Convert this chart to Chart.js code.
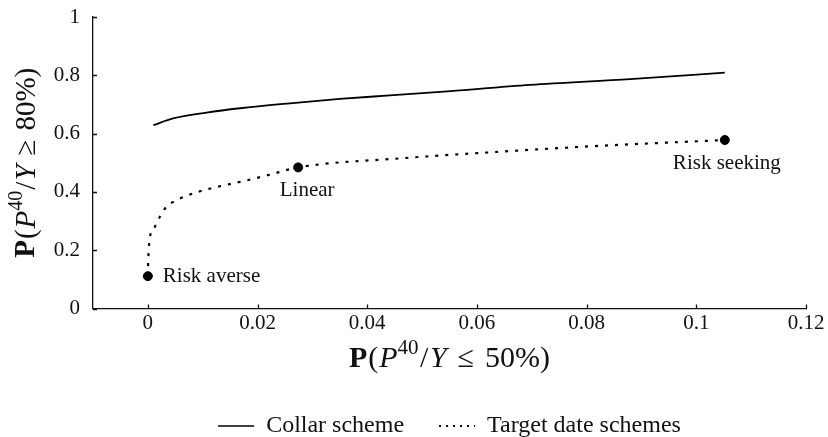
<!DOCTYPE html>
<html>
<head>
<meta charset="utf-8">
<script src="https://cdn.jsdelivr.net/npm/chart.js@4.4.1/dist/chart.umd.min.js"></script>
<style>
  html, body { margin: 0; padding: 0; background: #fff; }
</style>
</head>
<body>
<canvas id="chart" width="828" height="437"></canvas>
<script>
// Collar scheme frontier
const collarX = [0.001, 0.0046, 0.0107, 0.0168, 0.0259, 0.035, 0.0441, 0.0533, 0.0697, 0.0879, 0.1052];
const collarY = [0.629, 0.652, 0.672, 0.687, 0.704, 0.719, 0.731, 0.743, 0.767, 0.787, 0.809];

// Target date schemes frontier
const targetX = [0, 0.0001, 0.0004, 0.0013, 0.0022, 0.0034, 0.0053, 0.0086, 0.0128, 0.0177, 0.022, 0.0274, 0.046, 0.0642, 0.0824, 0.1052];
const targetY = [0.111, 0.178, 0.246, 0.281, 0.315, 0.349, 0.372, 0.397, 0.418, 0.438, 0.458, 0.484, 0.515, 0.538, 0.558, 0.578];

// highlighted target date schemes
const markerNames = ["Risk averse", "Linear", "Risk seeking"];
const markerX = [0, 0.0274, 0.1052];
const markerY = [0.111, 0.484, 0.578];

const xTicks = [0, 0.02, 0.04, 0.06, 0.08, 0.1, 0.12];
const xTickLabels = ["0", "0.02", "0.04", "0.06", "0.08", "0.1", "0.12"];
const yTicks = [0, 0.2, 0.4, 0.6, 0.8, 1];
const yTickLabels = ["0", "0.2", "0.4", "0.6", "0.8", "1"];

const FONT = '"Liberation Serif", "DejaVu Serif", serif';
const INK = "#111";

const toPoints = (xs, ys) => xs.map((x, i) => ({ x: x, y: ys[i] }));

// where each marker label sits relative to its dot
const labelOffsets = [
    { dx: 15, dy: 0, align: "left" },
    { dx: 9, dy: 23, align: "center" },
    { dx: 2, dy: 23, align: "center" }
];

function drawRich(ctx, parts, cx, cy, size) {
    const fonts = {
        n: `${size}px ${FONT}`,
        b: `bold ${size}px ${FONT}`,
        i: `italic ${size}px ${FONT}`,
        s: `${Math.round(size * 0.7)}px ${FONT}`
    };
    let total = 0;
    parts.forEach(p => {
        ctx.font = fonts[p.f];
        p.w = ctx.measureText(p.t).width + (p.gap || 0) * 2;
        total += p.w;
    });
    let x = cx - total / 2;
    ctx.textBaseline = "middle";
    ctx.textAlign = "left";
    parts.forEach(p => {
        ctx.font = fonts[p.f];
        ctx.fillText(p.t, x + (p.gap || 0), cy + (p.f === "s" ? -size * 0.36 : 0));
        x += p.w;
    });
}

const extras = {
    id: "extras",
    afterDraw(chart) {
        const ctx = chart.ctx;
        const xs = chart.scales.x;
        const ys = chart.scales.y;
        const area = chart.chartArea;
        ctx.save();

        // inward tick marks
        ctx.strokeStyle = INK;
        ctx.lineWidth = 1.3;
        ctx.beginPath();
        xTicks.forEach(v => {
            const px = Math.round(xs.getPixelForValue(v)) + 0.5;
            ctx.moveTo(px, area.bottom);
            ctx.lineTo(px, area.bottom - 4);
        });
        yTicks.forEach(v => {
            const py = Math.round(ys.getPixelForValue(v)) + 0.5;
            ctx.moveTo(area.left, py);
            ctx.lineTo(area.left + 4, py);
        });
        ctx.stroke();

        // marker labels
        ctx.fillStyle = INK;
        ctx.font = `21px ${FONT}`;
        ctx.textBaseline = "middle";
        markerNames.forEach((name, i) => {
            const o = labelOffsets[i];
            ctx.textAlign = o.align;
            ctx.fillText(name, xs.getPixelForValue(markerX[i]) + o.dx, ys.getPixelForValue(markerY[i]) + o.dy);
        });

        // axis titles
        const xTitle = [
            { t: "P", f: "b" }, { t: "(", f: "n", gap: 1 }, { t: "P", f: "i" }, { t: "40", f: "s" },
            { t: "/", f: "n", gap: 1.5 }, { t: "Y", f: "i" }, { t: "≤", f: "n", gap: 11 }, { t: "50%)", f: "n" }
        ];
        drawRich(ctx, xTitle, (area.left + area.right) / 2, 359, 30);

        const yTitle = [
            { t: "P", f: "b" }, { t: "(", f: "n", gap: 1 }, { t: "P", f: "i" }, { t: "40", f: "s" },
            { t: "/", f: "n", gap: 1 }, { t: "Y", f: "i" }, { t: "≥", f: "n", gap: 9 }, { t: "80%)", f: "n" }
        ];
        ctx.translate(27, (area.top + area.bottom) / 2);
        ctx.rotate(-Math.PI / 2);
        drawRich(ctx, yTitle, 0, 0, 29);

        ctx.restore();
    }
};

new Chart(document.getElementById("chart"), {
    type: "scatter",
    data: {
        datasets: [
            {
                label: "Schemes",
                data: toPoints(markerX, markerY),
                backgroundColor: "#000",
                borderColor: "#000",
                pointRadius: 4.5,
                showLine: false,
                order: 0
            },
            {
                label: "Collar scheme",
                data: toPoints(collarX, collarY),
                borderColor: "#000",
                backgroundColor: "#000",
                borderWidth: 1.8,
                pointRadius: 0,
                pointStyle: "line",
                showLine: true,
                cubicInterpolationMode: "monotone",
                order: 1
            },
            {
                label: "Target date schemes",
                data: toPoints(targetX, targetY),
                borderColor: "#000",
                backgroundColor: "#000",
                borderWidth: 2.2,
                borderDash: [3, 7],
                pointRadius: 0,
                pointStyle: "line",
                showLine: true,
                cubicInterpolationMode: "monotone",
                order: 2
            }
        ]
    },
    options: {
        responsive: false,
        animation: false,
        devicePixelRatio: 1,
        layout: { padding: { left: 0, right: 22, top: 17, bottom: -11 } },
        scales: {
            x: {
                type: "linear",
                min: -0.01,
                max: 0.12,
                afterBuildTicks: scale => { scale.ticks = xTicks.map(v => ({ value: v })); },
                afterFit: scale => {
                    scale.height = 70.5;
                    scale.paddingLeft = 0;
                    scale.paddingRight = 0;
                },
                ticks: {
                    color: INK,
                    font: { family: FONT, size: 21 },
                    padding: 2,
                    maxRotation: 0,
                    callback: (value) => xTickLabels[xTicks.indexOf(value)]
                },
                grid: { display: false, drawTicks: false },
                border: { display: true, color: INK, width: 1.3 }
            },
            y: {
                min: 0,
                max: 1,
                afterBuildTicks: scale => { scale.ticks = yTicks.map(v => ({ value: v })); },
                afterFit: scale => {
                    scale.width = 93;
                    scale.paddingTop = 0;
                    scale.paddingBottom = 0;
                },
                ticks: {
                    color: INK,
                    font: { family: FONT, size: 21 },
                    padding: 13,
                    callback: (value) => yTickLabels[yTicks.indexOf(value)]
                },
                grid: { display: false, drawTicks: false },
                border: { display: true, color: INK, width: 1.3 }
            }
        },
        plugins: {
            legend: {
                position: "bottom",
                fullSize: false,
                labels: {
                    color: INK,
                    font: { family: FONT, size: 24 },
                    usePointStyle: true,
                    pointStyleWidth: 36,
                    boxWidth: 36,
                    padding: 35,
                    filter: item => item.text !== "Schemes",
                    generateLabels: chart => {
                        const items = Chart.defaults.plugins.legend.labels.generateLabels(chart);
                        return items.map(item => {
                            const ds = chart.data.datasets[item.datasetIndex];
                            item.lineDash = ds.borderDash ? [2, 5] : [];
                            item.lineWidth = ds.borderDash ? 2 : 1.6;
                            item.pointStyle = "line";
                            return item;
                        });
                    }
                }
            },
            tooltip: { enabled: false }
        }
    },
    plugins: [extras]
});
</script>
</body>
</html>
